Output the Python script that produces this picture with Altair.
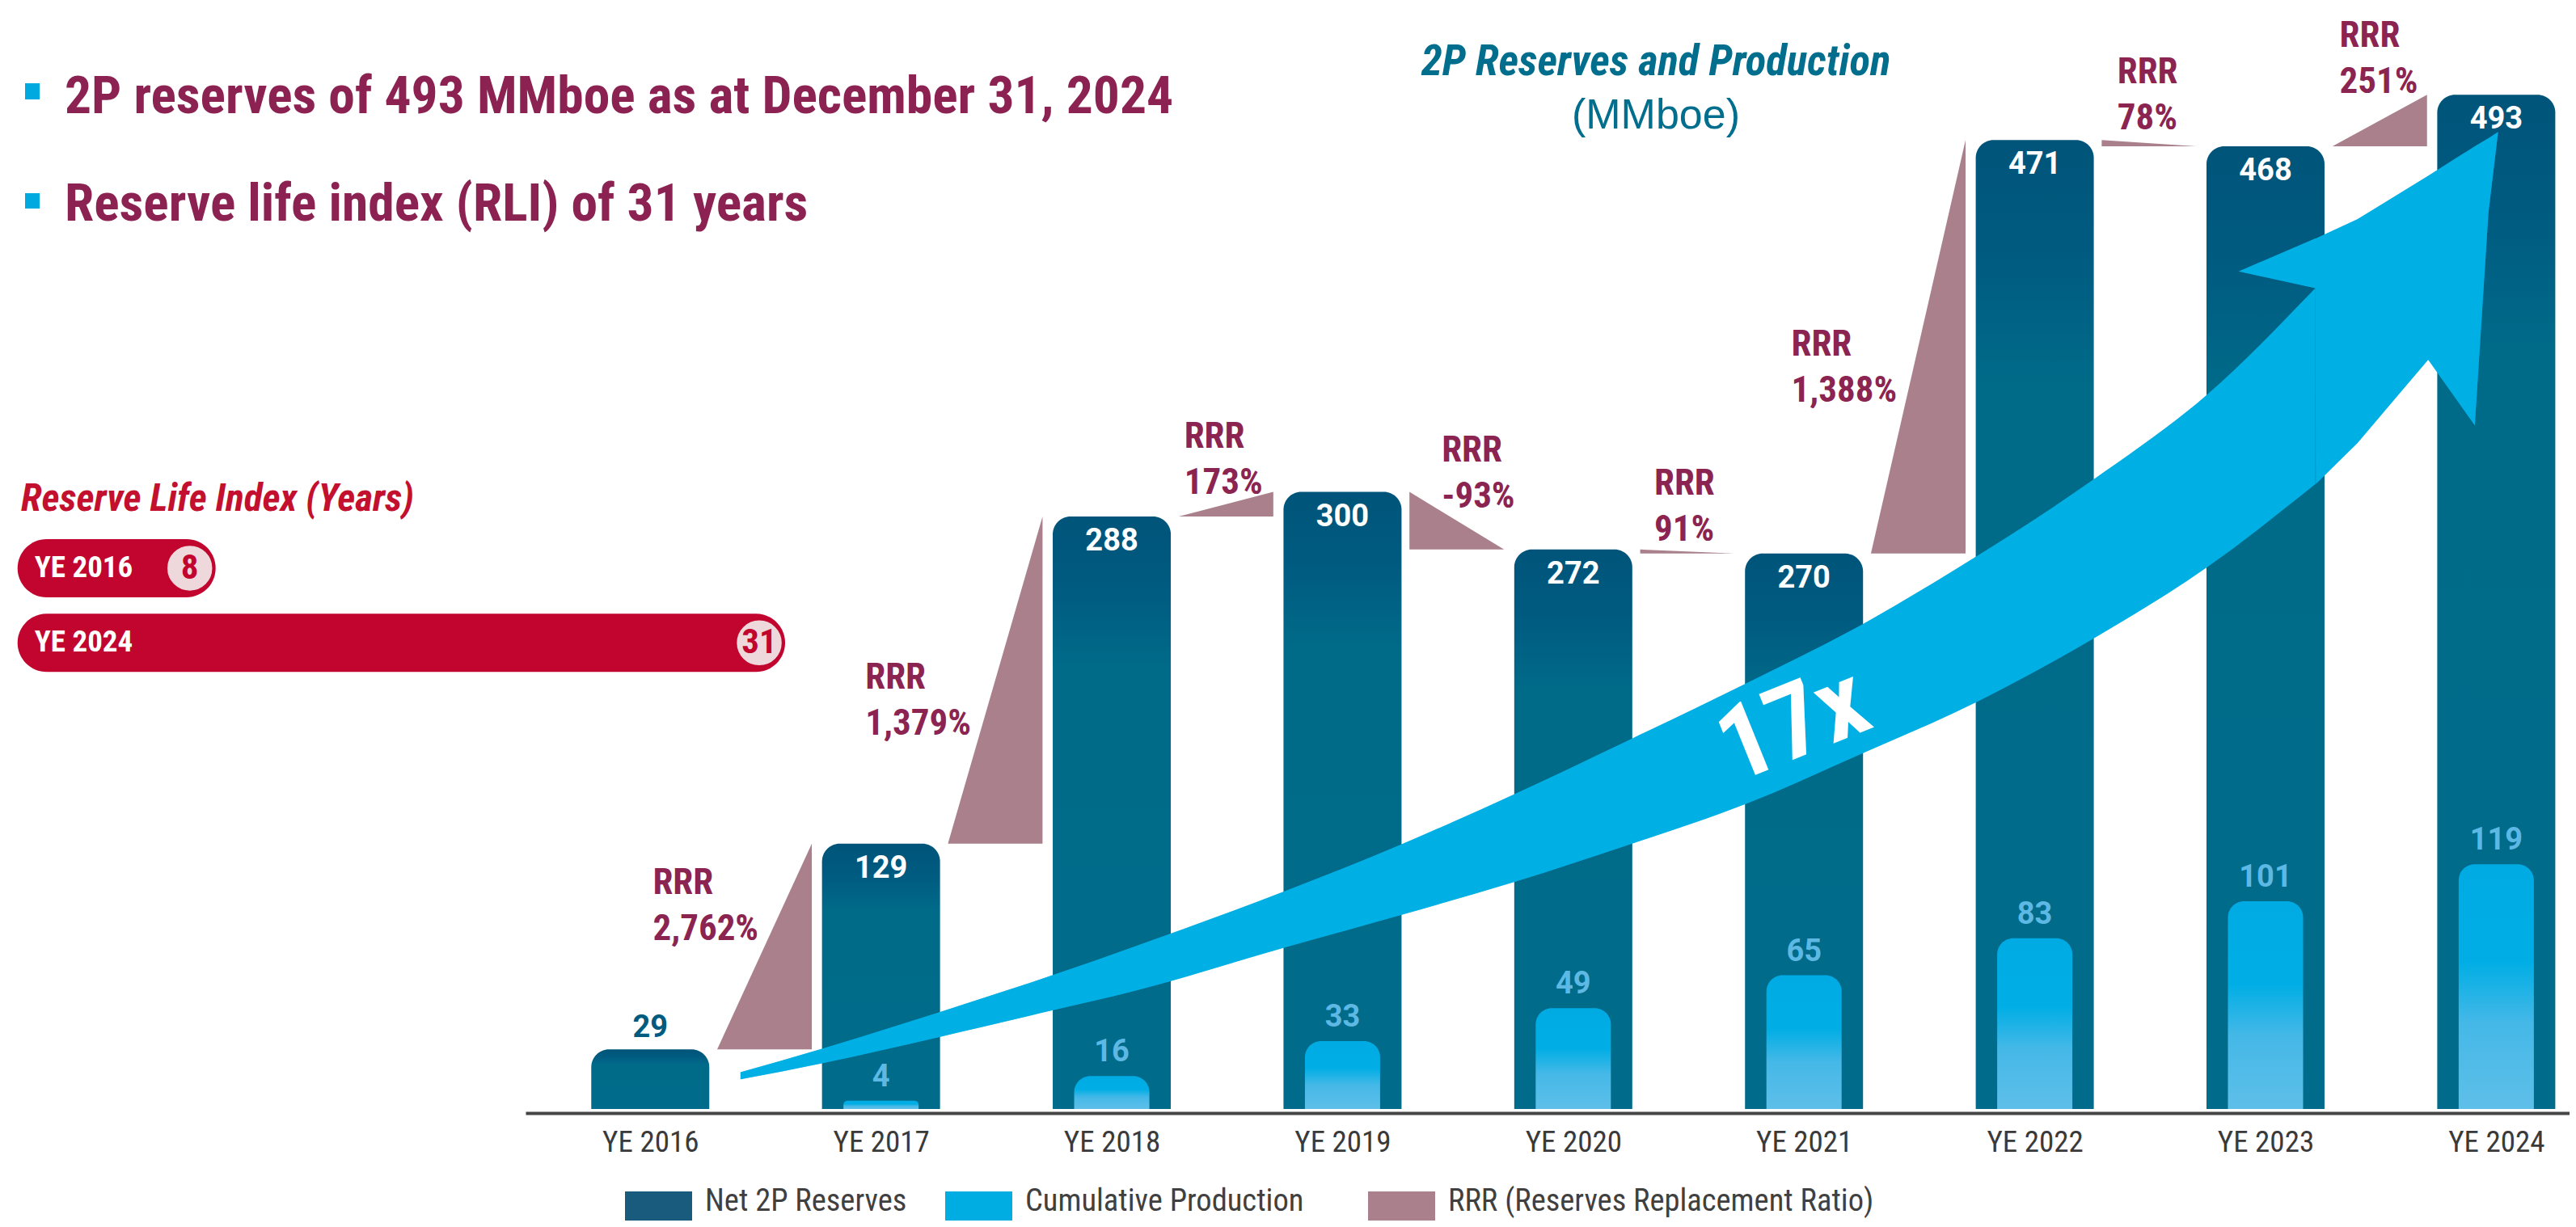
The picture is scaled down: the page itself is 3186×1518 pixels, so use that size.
import json
import altair as alt
import pandas as pd

# ---------------- data ----------------
years = ["YE 2016", "YE 2017", "YE 2018", "YE 2019", "YE 2020",
         "YE 2021", "YE 2022", "YE 2023", "YE 2024"]
net_2p_reserves = [29, 129, 288, 300, 272, 270, 471, 468, 493]
cumulative_production = [0, 4, 16, 33, 49, 65, 83, 101, 119]
rrr_values = ["2,762%", "1,379%", "173%", "-93%", "91%", "1,388%", "78%", "251%"]
rli_years = ["YE 2016", "YE 2024"]
rli_values = [8, 31]
legend_labels = ["Net 2P Reserves", "Cumulative Production",
                 "RRR (Reserves Replacement Ratio)"]
headline_1 = "2P reserves of 493 MMboe as at December 31, 2024"
headline_2 = "Reserve life index (RLI) of 31 years"
rli_title = "Reserve Life Index (Years)"
chart_title = "2P Reserves and Production"
chart_unit = "(MMboe)"

# annotation anchors (year index, MMboe) for the RRR call-outs
rrr_anchor_x = [0.011, 0.932, 2.314, 3.430, 4.351, 4.945, 6.358, 7.321]
rrr_anchor_y = [102.6, 202.4, 319.4, 312.8, 296.8, 364.3, 496.5, 514.4]

# growth arrow outline (year index, MMboe)
arrow_band_x = [0.391, 0.744, 1.256, 1.745, 2.094, 2.746, 3.256, 3.734,
                4.257, 4.746, 5.259, 5.653, 6.257, 6.745, 7.216]
arrow_band_upper = [17.9, 29.3, 47.2, 65.1, 78.8, 105.7, 128.7, 152.5,
                    180.2, 206.7, 236.0, 262.1, 306.2, 347.1, 399.0]
arrow_band_lower = [14.4, 22.2, 35.1, 48.0, 57.3, 78.4, 94.4, 110.0,
                    129.1, 148.2, 173.2, 192.7, 228.9, 263.3, 303.8]
arrow_head_x = [6.884, 7.216, 7.218, 7.398, 7.705, 7.907, 7.966, 8.008]
arrow_head_upper = [407.2, 423.2, 423.2, 432.5, 453.6, 468.0, 471.9, 475.0]
arrow_head_lower = [407.2, 399.0, 303.8, 323.7, 364.3, 332.3, 435.6, 475.0]

# ---------------- styling ----------------
COND = "'Roboto Condensed', 'Open Sans Condensed', 'DejaVu Sans Condensed', sans-serif"
NUM = "Roboto, 'Liberation Sans', sans-serif"
W, H = 3170, 1502
BASE_Y = 1369

NET_C = "#006b8a"
CUM_C = "#00ade3"
RRR_C = "#a9808b"
ARROW_C = "#00b0e5"
MAROON = "#8b2450"
CRIMSON = "#c1052e"

XS = alt.Scale(domain=[-0.523, 8.3], range=[642, W], nice=False, zero=False)
YS = alt.Scale(domain=[0, 534], range=[BASE_Y, 0], nice=False, zero=False)

# pill placement (in the main chart's units): start and length per RLI year
RLI_X0 = -2.742
RLI_PER_YEAR = 0.1073
RLI_ROW_Y = [262.9, 226.6]
RLI_CIRCLE_BACK = 0.112

df = pd.DataFrame({
    "idx": list(range(len(years))),
    "year": years,
    "net": net_2p_reserves,
    "cum": cumulative_production,
})
df["zero"] = 0

tri_rows = []
for i in range(len(years) - 1):
    a, b = net_2p_reserves[i], net_2p_reserves[i + 1]
    lo = min(a, b)
    tri_rows.append({"pair": i, "x": i + 0.29, "level": a, "base": lo})
    tri_rows.append({"pair": i, "x": i + 0.70, "level": b, "base": lo})
df_tri = pd.DataFrame(tri_rows)

df_rrr = pd.DataFrame({
    "x": rrr_anchor_x, "y": rrr_anchor_y,
    "txt": ["RRR\n" + v for v in rrr_values],
})

df_band = pd.DataFrame({"x": arrow_band_x, "u": arrow_band_upper, "l": arrow_band_lower})
df_head = pd.DataFrame({"x": arrow_head_x, "u": arrow_head_upper, "l": arrow_head_lower})

growth = f"{round(net_2p_reserves[-1] / net_2p_reserves[0])}x"
df_growth = pd.DataFrame({"x": [4.955], "y": [186], "t": [growth]})

df_rli = pd.DataFrame({"label": rli_years, "value": rli_values, "row_y": RLI_ROW_Y})
df_rli["x0"] = RLI_X0
df_rli["x1"] = RLI_X0 + df_rli["value"] * RLI_PER_YEAR
df_rli["cx"] = df_rli["x1"] - RLI_CIRCLE_BACK

x_axis = alt.Axis(
    values=list(range(len(years))),
    labelExpr=json.dumps(years) + "[datum.value]",
    offset=BASE_Y - H, domain=True, domainColor="#454545", domainWidth=4,
    ticks=False, grid=False, title=None, labelFont=COND, labelFontSize=37,
    labelColor="#3a3a3a", labelPadding=18, labelOverlap=False,
)

net_grad = alt.Gradient(
    gradient="linear", x1=0, x2=0, y1=0, y2=1,
    stops=[alt.GradientStop(color="#00547a", offset=0),
           alt.GradientStop(color="#005b80", offset=0.12),
           alt.GradientStop(color="#006a89", offset=0.25),
           alt.GradientStop(color=NET_C, offset=1)])
cum_grad = alt.Gradient(
    gradient="linear", x1=0, x2=0, y1=0, y2=1,
    stops=[alt.GradientStop(color="#00abe3", offset=0),
           alt.GradientStop(color="#00aee5", offset=0.4),
           alt.GradientStop(color="#45b8e7", offset=0.65),
           alt.GradientStop(color="#5ebfe9", offset=1)])

base = alt.Chart(df)

net_bars = base.mark_bar(size=146, cornerRadiusTopLeft=22, cornerRadiusTopRight=22,
                         color=net_grad).encode(
    x=alt.X("idx:Q", scale=XS, axis=x_axis),
    y=alt.Y("net:Q", scale=YS, axis=None),
    y2="zero:Q",
)
cum_bars = base.transform_filter("datum.cum > 0").mark_bar(
    size=93, cornerRadiusTopLeft=20, cornerRadiusTopRight=20, color=cum_grad).encode(
    x="idx:Q", y="cum:Q", y2="zero:Q",
)

tri = alt.Chart(df_tri).mark_area(color=RRR_C, interpolate="linear").encode(
    x="x:Q", y="level:Q", y2="base:Q", detail="pair:N",
)

band_under = alt.Chart(df_band).mark_area(color=ARROW_C, interpolate="monotone").encode(
    x="x:Q", y="u:Q", y2="l:Q")
head_under = alt.Chart(df_head).mark_area(color=ARROW_C, interpolate="linear").encode(
    x="x:Q", y="u:Q", y2="l:Q")
band_over = alt.Chart(df_band).mark_area(color=ARROW_C, interpolate="monotone", opacity=0.5).encode(
    x="x:Q", y="u:Q", y2="l:Q")
head_over = alt.Chart(df_head).mark_area(color=ARROW_C, interpolate="linear", opacity=0.5).encode(
    x="x:Q", y="u:Q", y2="l:Q")

net_lbl_in = base.transform_filter("datum.net >= 60").mark_text(
    font=NUM, fontSize=38, fontWeight="bold", color="white", baseline="middle", dy=31).encode(
    x="idx:Q", y="net:Q", text="net:Q")
net_lbl_out = base.transform_filter("datum.net < 60").mark_text(
    font=NUM, fontSize=38, fontWeight="bold", color="#005b80", baseline="middle", dy=-26).encode(
    x="idx:Q", y="net:Q", text="net:Q")
cum_lbl = base.transform_filter("datum.cum > 0").mark_text(
    font=NUM, fontSize=38, fontWeight="bold", color="#5db9e3", baseline="middle", dy=-29).encode(
    x="idx:Q", y="cum:Q", text="cum:Q")

rrr_lbl = alt.Chart(df_rrr).mark_text(
    font=COND, fontSize=45, fontWeight="bold", color=MAROON, align="left",
    baseline="middle", lineBreak="\n", lineHeight=57, dy=-19).encode(
    x="x:Q", y="y:Q", text="txt:N")

growth_lbl = alt.Chart(df_growth).mark_text(
    font=COND, fontSize=128, fontWeight="bold", color="white", angle=338,
    baseline="middle", align="center").encode(x="x:Q", y="y:Q", text="t:N")

# reserve life index pills
rli = alt.Chart(df_rli)
pill = rli.mark_bar(size=72, cornerRadius=36, color=CRIMSON).encode(
    x="x0:Q", x2="x1:Q", y="row_y:Q")
circ = rli.mark_circle(size=3300, color="#eed8dc", opacity=1, stroke=CRIMSON,
                       strokeWidth=2).encode(x="cx:Q", y="row_y:Q")
circ_txt = rli.mark_text(font=COND, fontSize=43, fontWeight="bold", color=CRIMSON,
                         baseline="middle").encode(x="cx:Q", y="row_y:Q", text="value:Q")
pill_txt = rli.mark_text(font=COND, fontSize=37, fontWeight="bold", color="white",
                         align="left", baseline="middle", dx=21).encode(
    x="x0:Q", y="row_y:Q", text="label:N")

one = pd.DataFrame({"k": [0]})


def txt(t, x, y, **kw):
    return alt.Chart(one).mark_text(text=t, **kw).encode(x=alt.value(x), y=alt.value(y))


def rect(x, x2, y, y2, color):
    return alt.Chart(one).mark_rect(color=color).encode(
        x=alt.value(x), x2=alt.value(x2), y=alt.value(y), y2=alt.value(y2))


decor = [
    rect(23, 41, 95, 115, "#00a9e0"),
    rect(23, 41, 231, 250, "#00a9e0"),
    txt(headline_1, 72, 132, font=COND, fontSize=65.5, fontWeight="bold", color="#8b2252",
        align="left", baseline="alphabetic"),
    txt(headline_2, 72, 265, font=COND, fontSize=65.5, fontWeight="bold", color="#8b2252",
        align="left", baseline="alphabetic"),
    txt(rli_title, 18, 624, font=COND, fontSize=47.5, fontWeight="bold", fontStyle="italic",
        color="#c4102f", align="left", baseline="alphabetic"),
    txt(chart_title, 2040, 85, font=COND, fontSize=53, fontWeight="bold", fontStyle="italic",
        color="#006e8c", align="center", baseline="alphabetic"),
    txt(chart_unit, 2040, 151, font="'Liberation Sans', Arial, sans-serif", fontSize=52,
        color="#006e8c", align="center", baseline="alphabetic"),
]

legend_colors = ["#195b7c", "#00ade3", RRR_C]
legend_x = [765, 1161, 1684]
for lab, col, lx in zip(legend_labels, legend_colors, legend_x):
    decor.append(rect(lx, lx + 83, 1466, 1502, col))
    decor.append(txt(lab, lx + 99, 1478, font=COND, fontSize=38.5, color="#404040",
                     align="left", baseline="middle"))

chart = alt.layer(
    net_bars, band_under, head_under, tri, cum_bars, band_over, head_over,
    net_lbl_in, net_lbl_out, cum_lbl, rrr_lbl, growth_lbl,
    pill, circ, circ_txt, pill_txt, *decor
).properties(
    width=W, height=H, padding=0, autosize="none", background="white"
).configure_view(stroke=None)

chart.save("out.html", embed_options={"renderer": "svg", "actions": False})
